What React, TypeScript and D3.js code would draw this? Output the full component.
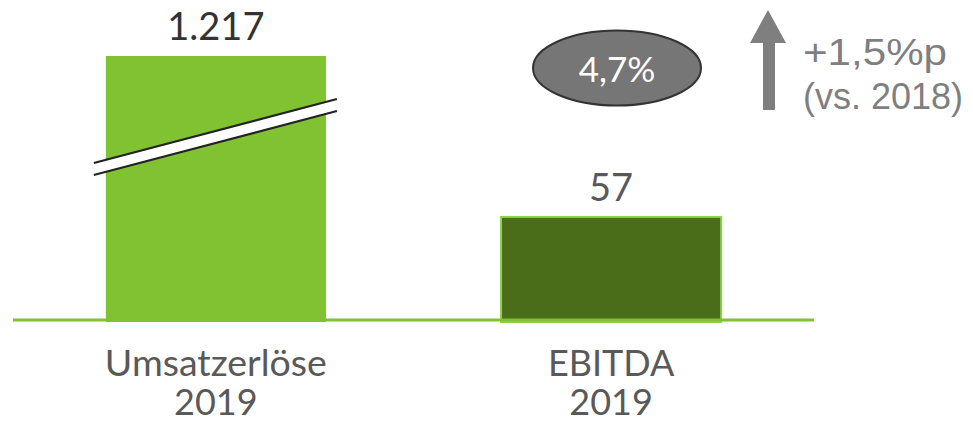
import React from "react";
import * as d3 from "d3";

const categories = ["Umsatzerlöse\n2019", "EBITDA\n2019"];
const values = [1217, 57];
const valueLabels = ["1.217", "57"];
const brokenBars = [true, false];
const displayCap = 146;
const marginLabel = "4,7%";
const changeLabel = "+1,5%p";
const changeSub = "(vs. 2018)";

const W = 973;
const H = 423;
const baseY = 320;

export default function App() {
  const x = d3.scaleBand<string>().domain(categories).range([7, 820]).paddingInner(0.443).paddingOuter(0.25);
  const y = d3.scaleLinear().domain([0, displayCap]).range([baseY, 56]);
  const fills = ["#80c232", "#4a6d19"];
  const strokes = ["none", "#8fd14f"];
  const valColors = ["#333333", "#595959"];
  const font = "Lato, 'Open Sans', sans-serif";
  const arial = "'Liberation Sans', Arial, sans-serif";

  return (
    <svg width={W} height={H} style={{ position: "absolute", left: 0, top: 0 }}>
      <rect width={W} height={H} fill="#ffffff" />
      {categories.map((c, i) => {
        const x0 = x(c)!;
        const bw = x.bandwidth();
        const v = Math.min(values[i], displayCap);
        const top = y(v);
        const cx = x0 + bw / 2;
        const lines = c.split("\n");
        return (
          <g key={c}>
            <rect x={x0} y={top} width={bw} height={baseY + 2 - top} fill={fills[i]} stroke={strokes[i]} strokeWidth={2} />
            <text x={cx} y={top - 16} textAnchor="middle" fontFamily={font} fontSize={38} fill={valColors[i]}>{valueLabels[i]}</text>
            {lines.map((l, j) => (
              <text key={j} x={cx} y={376 + j * 39} textAnchor="middle" fontFamily={font} fontSize={36} textLength={j === 0 && i === 0 ? 222 : undefined} lengthAdjust="spacingAndGlyphs" fill="#595959">{l}</text>
            ))}
            {brokenBars[i] && (() => {
              const xl = x0 - 12, xr = x0 + bw + 11;
              const yl = 163, yr = 99, gap = 12;
              return (
                <g>
                  <polygon points={`${xl},${yl} ${xr},${yr} ${xr},${yr + gap} ${xl},${yl + gap}`} fill="#ffffff" />
                  <line x1={xl} y1={yl} x2={xr} y2={yr} stroke="#222" strokeWidth={2.2} />
                  <line x1={xl} y1={yl + gap} x2={xr} y2={yr + gap} stroke="#222" strokeWidth={2.2} />
                </g>
              );
            })()}
          </g>
        );
      })}
      <line x1={13} x2={814} y1={baseY} y2={baseY} stroke="#80c232" strokeWidth={3} />
      <ellipse cx={617} cy={68} rx={84} ry={37.5} fill="#767676" stroke="#333333" strokeWidth={2} />
      <text x={617} y={82} textAnchor="middle" fontFamily={font} fontSize={35} fill="#ffffff">{marginLabel}</text>
      <polygon points="768,10 786,43 775,43 775,110 763,110 763,43 750,43" fill="#7f7f7f" />
      <text x={803} y={65} fontFamily={arial} fontSize={36} textLength={144} lengthAdjust="spacingAndGlyphs" fill="#7f7f7f">{changeLabel}</text>
      <text x={803} y={109} fontFamily={arial} fontSize={36} fill="#7f7f7f">{changeSub}</text>
    </svg>
  );
}
